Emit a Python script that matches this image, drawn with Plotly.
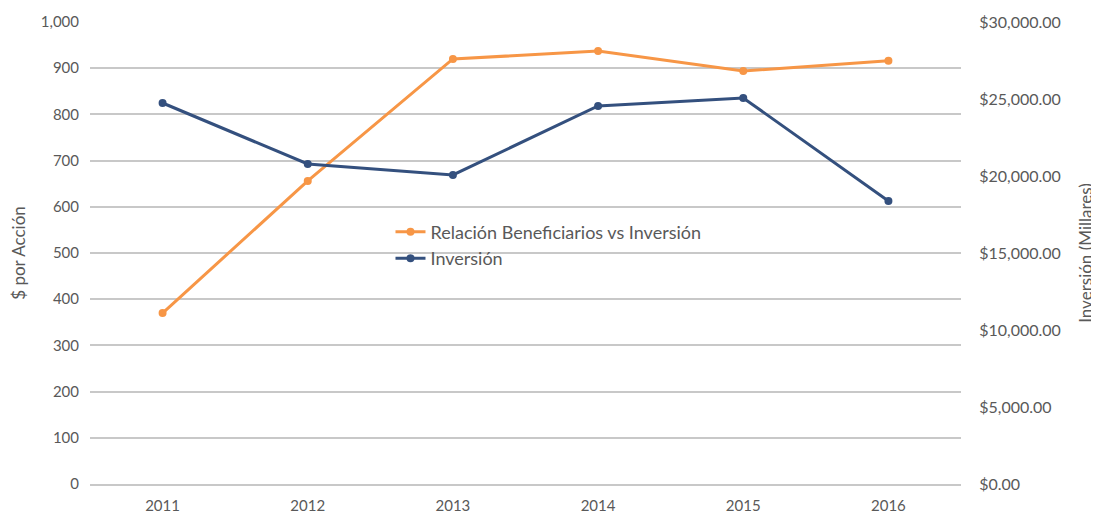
import plotly.graph_objects as go

years = ["2011", "2012", "2013", "2014", "2015", "2016"]
relacion = [370, 656, 920, 937, 894, 916]
inversion = [24740, 20780, 20070, 24550, 25070, 18380]

font_fam = "Lato, 'Open Sans', sans-serif"
txt = "#595959"
orange = "#F79646"
blue = "#34507E"

fig = go.Figure()
fig.add_trace(go.Scatter(x=years, y=relacion, name="Relación Beneficiarios vs Inversión",
                         mode="lines+markers", line=dict(color=orange, width=3),
                         marker=dict(size=8, color=orange), yaxis="y"))
fig.add_trace(go.Scatter(x=years, y=inversion, name="Inversión",
                         mode="lines+markers", line=dict(color=blue, width=3),
                         marker=dict(size=8, color=blue), yaxis="y2"))

# page body has an 8px default margin, so the figure is sized/offset to compensate
fig.update_layout(
    width=1091, height=507,
    margin=dict(l=82, r=138, t=14, b=31, autoexpand=False),
    paper_bgcolor="white", plot_bgcolor="white",
    font=dict(family=font_fam, size=15, color=txt),
    showlegend=True,
    legend=dict(x=0.345, y=0.517, xanchor="left", yanchor="middle",
                bgcolor="rgba(0,0,0,0)", font=dict(size=18, color=txt),
                tracegroupgap=2, itemwidth=30),
    xaxis=dict(type="category", range=[-0.5, 5.5], showgrid=False, automargin=False,
               showline=True, linecolor="#c8c8c8", linewidth=1.5,
               ticks="outside", ticklen=7, tickcolor="rgba(0,0,0,0)",
               tickfont=dict(size=15, color=txt)),
    yaxis=dict(range=[0, 1000], dtick=100, tickformat=",", showgrid=True, automargin=False,
               gridcolor="#c8c8c8", gridwidth=1.5, zeroline=False,
               ticks="outside", ticklen=7, tickcolor="rgba(0,0,0,0)",
               tickfont=dict(size=15, color=txt),
               title=dict(text="$ por Acción", font=dict(size=17, color=txt), standoff=14)),
    yaxis2=dict(range=[0, 30000], dtick=5000, tickformat="$,.2f", overlaying="y",
                side="right", showgrid=False, zeroline=False, automargin=False,
                ticks="outside", ticklen=14, tickcolor="rgba(0,0,0,0)",
                tickfont=dict(size=16, color=txt),
                title=dict(text="Inversión (Millares)", font=dict(size=17, color=txt), standoff=20)),
)

fig.write_html("out.html")
